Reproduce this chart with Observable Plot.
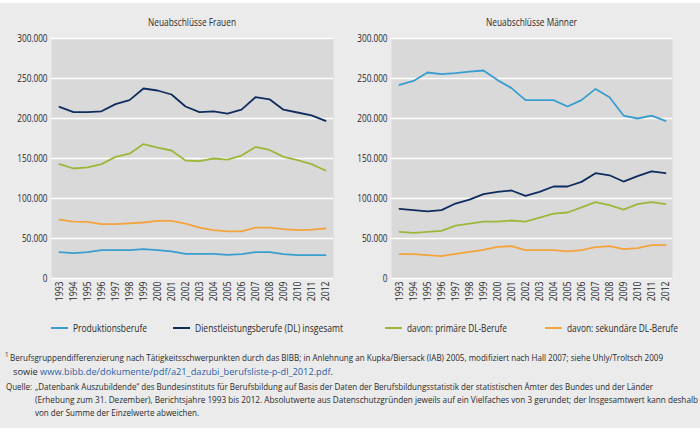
<!DOCTYPE html>
<html>
<head>
<meta charset="utf-8">
<script src="https://cdn.jsdelivr.net/npm/d3@7"></script>
<script src="https://cdn.jsdelivr.net/npm/@observablehq/plot@0.6"></script>
<style>
  body { margin: 0; background: #fff; }
  #wrap { position: relative; width: 700px; height: 433px; overflow: hidden;
          font-family: "Open Sans", "DejaVu Sans Condensed", sans-serif; color: #2a2a2a; }
  #box { position: absolute; left: 0; top: 3px; width: 700px; height: 425px; background: #ebebeb; }
  .panel { position: absolute; top: 30px; }
  .t { position: absolute; white-space: nowrap; line-height: 1; transform-origin: 0 50%; display: inline-block; }
  .sw { position: absolute; width: 17px; height: 2px; }
  a { color: #2b5ea7; text-decoration: none; }
</style>
</head>
<body>
<div id="wrap">
  <div id="box"></div>
  <div class="panel" id="left" style="left:0px"></div>
  <div class="panel" id="right" style="left:350px"></div>
</div>
<script>
const years = [1993,1994,1995,1996,1997,1998,1999,2000,2001,2002,2003,2004,2005,2006,2007,2008,2009,2010,2011,2012];
const seriesNames = ["Produktionsberufe", "Dienstleistungsberufe (DL) insgesamt", "davon: primäre DL-Berufe", "davon: sekundäre DL-Berufe"];
const seriesColors = ["#3a9dd0", "#0f2c5e", "#9bb83b", "#f4a43c"];
const yTicks = [0, 50000, 100000, 150000, 200000, 250000, 300000];
const panelTitles = ["Neuabschlüsse Frauen", "Neuabschlüsse Männer"];

// Neuabschlüsse Frauen
const frauenProduktion = [32900,31600,32900,35400,35400,35400,36600,35400,34000,30800,30800,30800,29500,30400,32900,32900,30400,29200,29200,29200];
const frauenDL         = [214500,208000,208000,209000,218000,223000,237500,235000,230000,215000,208000,209000,206000,211000,226600,224000,211000,207500,204000,197000];
const frauenPrimaer    = [143000,137500,139000,143000,152000,156000,168000,163700,160000,147500,146600,150000,148700,153700,164500,160700,152000,148000,143000,135000];
const frauenSekundaer  = [73700,71000,70800,67900,68000,69000,70000,72000,72000,68700,63700,60400,59000,59000,63700,63700,61600,60400,61000,62500];

// Neuabschlüsse Männer
const maennerProduktion = [242000,247000,257500,255400,256600,258700,260000,248000,238000,223000,223000,223000,215000,223000,237000,226600,203700,200000,203700,197000];
const maennerDL         = [87000,85400,84000,85400,93700,98700,105400,108300,110000,103300,108300,115000,115000,120800,131600,129000,121200,127900,134000,131600];
const maennerPrimaer    = [58300,57000,58300,59500,66200,68700,71200,71200,72500,71200,76200,81200,82500,89000,95400,91600,86200,92900,95400,92900];
const maennerSekundaer  = [30400,30400,29200,27900,30800,33300,35800,39600,40400,35400,35400,35400,34000,35400,39100,40400,36600,37900,41600,41600];

const footnote1 = "Berufsgruppendifferenzierung nach Tätigkeitsschwerpunkten durch das BIBB; in Anlehnung an Kupka/Biersack (IAB) 2005, modifiziert nach Hall 2007; siehe Uhly/Troltsch 2009";
const footnoteLink = "www.bibb.de/dokumente/pdf/a21_dazubi_berufsliste-p-dl_2012.pdf";
const source = [
  "„Datenbank Auszubildende“ des Bundesinstituts für Berufsbildung auf Basis der Daten der Berufsbildungsstatistik der statistischen Ämter des Bundes und der Länder",
  "(Erhebung zum 31. Dezember), Berichtsjahre 1993 bis 2012. Absolutwerte aus Datenschutzgründen jeweils auf ein Vielfaches von 3 gerundet; der Insgesamtwert kann deshalb",
  "von der Summe der Einzelwerte abweichen."
];

function rows(arrs) {
  const out = [];
  arrs.forEach((vals, i) => vals.forEach((v, j) => out.push({year: years[j], value: v, series: seriesNames[i]})));
  return out;
}
const fmt = d => d === 0 ? "0" : d3.format(",")(d).replace(/,/g, ".");
const FONT = '"Open Sans", "DejaVu Sans Condensed", sans-serif';
const wrap = document.getElementById("wrap");

function panel(data, mLeft, mRight) {
  return Plot.plot({
    width: 350, height: 280,
    marginTop: 8, marginBottom: 32, marginLeft: mLeft, marginRight: mRight,
    style: {fontFamily: FONT, fontSize: "10px", color: "#2a2a2a", background: "transparent", overflow: "visible"},
    x: {type: "point", domain: years, padding: 0, label: null},
    y: {domain: [0, 300000], label: null},
    color: {domain: seriesNames, range: seriesColors},
    marks: [
      Plot.frame({fill: "#d9d9d9", stroke: null}),
      Plot.gridY(yTicks, {stroke: "#fff", strokeOpacity: 1, strokeWidth: 1.5}),
      Plot.axisY(yTicks, {tickSize: 0, tickPadding: 4, tickFormat: fmt, fontSize: 10}),
      Plot.axisX(years, {tickSize: 0, tickPadding: 3, tickRotate: -90, tickFormat: d => String(d), fontSize: 10.5}),
      Plot.line(data, {x: "year", y: "value", z: "series", stroke: "series", strokeWidth: 1.8, curve: "linear"})
    ]
  });
}

// horizontally compress an SVG text around its own anchor point (text direction only)
function squeeze(t, k) {
  const ax = t.getAttribute("x");
  const x = (ax && !/em$/.test(ax)) ? (parseFloat(ax) || 0) : 0;
  const prev = t.getAttribute("transform") || "";
  t.setAttribute("transform", `${prev} translate(${x},0) scale(${k},1) translate(${-x},0)`.trim());
}

// text helper: left x, vertical center cy, target width w
function place(html, x, cy, w, fs, extraStyle = "") {
  const el = document.createElement("span");
  el.className = "t";
  el.style.cssText = `left:${x}px; top:${cy - 0.53 * fs}px; font-size:${fs}px; ${extraStyle}`;
  el.innerHTML = html;
  el.dataset.w = w;
  wrap.append(el);
  return el;
}

async function build() {
  try { await document.fonts.load("10px 'Open Sans'"); } catch (e) {}
  const L = panel(rows([frauenProduktion, frauenDL, frauenPrimaer, frauenSekundaer]), 51, 17);
  const R = panel(rows([maennerProduktion, maennerDL, maennerPrimaer, maennerSekundaer]), 41, 28);
  document.getElementById("left").append(L);
  document.getElementById("right").append(R);

  // condensed look for tick labels
  for (const svg of [L, R]) {
    svg.querySelectorAll('[aria-label="y-axis tick label"] text').forEach(t => squeeze(t, 0.82));
    svg.querySelectorAll('[aria-label="x-axis tick label"] text').forEach(t => squeeze(t, 0.82));
  }

  // panel titles (centered)
  place(panelTitles[0], 192 - 44, 22.7, 88, 10);
  place(panelTitles[1], 531 - 45.5, 22.7, 91, 10);

  // legend
  const legText = [[73, 147], [195, 343], [407, 507], [567, 678]];
  seriesNames.forEach((name, i) => {
    const sw = document.createElement("div");
    sw.className = "sw";
    sw.style.cssText = `left:${legText[i][0] - 22}px; top:${327.7 - 1}px; background:${seriesColors[i]}`;
    wrap.append(sw);
    place(name, legText[i][0], 327.7, legText[i][1] - legText[i][0], 11);
  });

  // footnotes
  place("1", 5, 355, 3.5, 6.5);
  place(footnote1, 10, 358, 653, 9.6);
  place(`sowie <a>${footnoteLink}</a>.`, 13, 372.5, 320, 9.6);
  place("Quelle:", 6, 387.5, 26, 9.6);
  place(source[0], 35, 387.5, 618, 9.6);
  place(source[1], 35, 400, 663, 9.6);
  place(source[2], 35, 412.8, 164, 9.6);

  // scale html texts to target widths
  wrap.querySelectorAll(".t").forEach(el => {
    const nat = el.getBoundingClientRect().width;
    const k = (+el.dataset.w) / nat;
    el.style.transform = `scaleX(${k})`;
  });
}
build();
</script>
</body>
</html>
